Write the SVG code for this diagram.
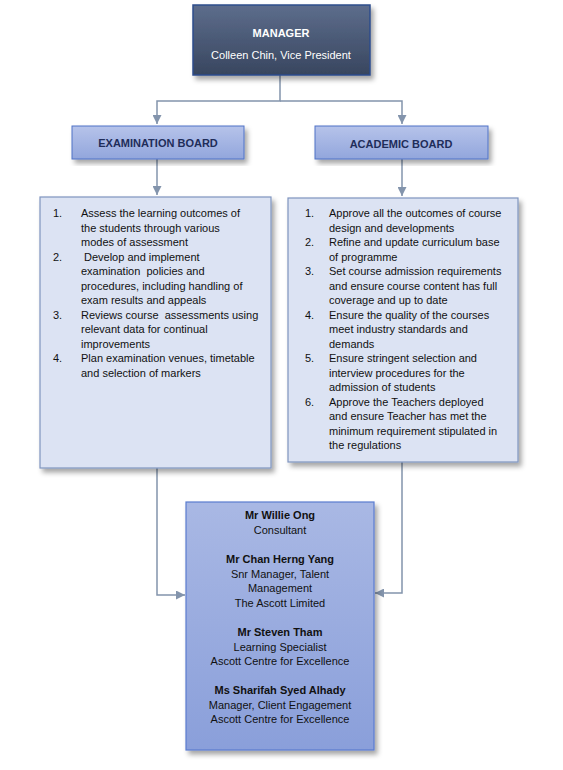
<svg xmlns="http://www.w3.org/2000/svg" width="563" height="770" viewBox="0 0 563 770">
<defs>
<linearGradient id="gMgr" x1="0" y1="0" x2="0" y2="1"><stop offset="0" stop-color="#5d6d8c"/><stop offset="1" stop-color="#38465f"/></linearGradient>
<linearGradient id="gBoard" x1="0" y1="0" x2="0" y2="1"><stop offset="0" stop-color="#b6c3ea"/><stop offset="1" stop-color="#92a6dc"/></linearGradient>
<linearGradient id="gBot" x1="0" y1="0" x2="0" y2="1"><stop offset="0" stop-color="#a9b8e4"/><stop offset="1" stop-color="#8a9fda"/></linearGradient>
<filter id="sh" x="-10%" y="-10%" width="130%" height="130%"><feDropShadow dx="3" dy="4" stdDeviation="2.5" flood-color="#000" flood-opacity="0.35"/></filter>
<marker id="ah" viewBox="0 0 10 10" refX="10" refY="5" markerWidth="6" markerHeight="6" orient="auto" markerUnits="strokeWidth"><path d="M0,0 L10,5 L0,10 z" fill="#8394ac"/></marker>
</defs>
<style>
text{font-family:"Liberation Sans",Arial,sans-serif;font-size:11px;fill:#111}
.b{font-weight:bold}
.w{fill:#fff}
.nv{fill:#1f2d5a;font-weight:bold}
.c{text-anchor:middle}
.p{white-space:pre}
.ln{fill:none;stroke:#8394ac;stroke-width:1.5}
</style>
<rect width="563" height="770" fill="#fff"/>
<g id="connectors">
<path class="ln" d="M280,75 V101 H157 V124" marker-end="url(#ah)"/>
<path class="ln" d="M280,101 H402 V124" marker-end="url(#ah)"/>
<path class="ln" d="M157,159 V195" marker-end="url(#ah)"/>
<path class="ln" d="M402,159 V196" marker-end="url(#ah)"/>
<path class="ln" d="M157,468 V595 H185" marker-end="url(#ah)"/>
<path class="ln" d="M402,462 V593 H375" marker-end="url(#ah)"/>
</g>
<g id="manager">
<rect x="193" y="5" width="177" height="70" fill="url(#gMgr)" stroke="#2d4c8c" stroke-width="1.5" filter="url(#sh)"/>
<text class="w b c" x="281" y="37">MANAGER</text>
<text class="w c" x="281" y="59">Colleen Chin, Vice President</text>
</g>
<g id="exam-board">
<rect x="72" y="126" width="172" height="33" fill="url(#gBoard)" stroke="#4f73c6" stroke-width="1" filter="url(#sh)"/>
<text class="nv c" x="158" y="147">EXAMINATION BOARD</text>
</g>
<g id="academic-board">
<rect x="315" y="126" width="173" height="33" fill="url(#gBoard)" stroke="#4f73c6" stroke-width="1" filter="url(#sh)"/>
<text class="nv c" x="401" y="148">ACADEMIC BOARD</text>
</g>
<g id="exam-duties">
<rect x="40" y="197" width="231" height="271" fill="#dce3f3" stroke="#7f94bf" stroke-width="1.2" filter="url(#sh)"/>
<text x="53" y="217">1.</text><text x="81" y="217">Assess the learning outcomes of</text>
<text x="81" y="231.5">the students through various</text>
<text x="81" y="246">modes of assessment</text>
<text x="53" y="260.5">2.</text><text x="84" y="260.5">Develop and implement</text>
<text class="p" x="81" y="275">examination  policies and</text>
<text x="81" y="289.5">procedures, including handling of</text>
<text x="81" y="304">exam results and appeals</text>
<text x="53" y="318.5">3.</text><text class="p" x="81" y="318.5">Reviews course  assessments using</text>
<text x="81" y="333">relevant data for continual</text>
<text x="81" y="347.5">improvements</text>
<text x="53" y="362">4.</text><text x="81" y="362">Plan examination venues, timetable</text>
<text x="81" y="376.5">and selection of markers</text>
</g>
<g id="academic-duties">
<rect x="288" y="198" width="230" height="264" fill="#dce3f3" stroke="#7f94bf" stroke-width="1.2" filter="url(#sh)"/>
<text x="305" y="217">1.</text><text x="329" y="217">Approve all the outcomes of course</text>
<text x="329" y="231.5">design and developments</text>
<text x="305" y="246">2.</text><text x="329" y="246">Refine and update curriculum base</text>
<text x="329" y="260.5">of programme</text>
<text x="305" y="275">3.</text><text x="329" y="275">Set course admission requirements</text>
<text x="329" y="289.5">and ensure course content has full</text>
<text x="329" y="304">coverage and up to date</text>
<text x="305" y="318.5">4.</text><text x="329" y="318.5">Ensure the quality of the courses</text>
<text x="329" y="333">meet industry standards and</text>
<text x="329" y="347.5">demands</text>
<text x="305" y="362">5.</text><text x="329" y="362">Ensure stringent selection and</text>
<text x="329" y="376.5">interview procedures for the</text>
<text x="329" y="391">admission of students</text>
<text x="305" y="405.5">6.</text><text x="329" y="405.5">Approve the Teachers deployed</text>
<text x="329" y="420">and ensure Teacher has met the</text>
<text x="329" y="434.5">minimum requirement stipulated in</text>
<text x="329" y="449">the regulations</text>
</g>
<g id="members">
<rect x="186" y="502" width="188" height="248" fill="url(#gBot)" stroke="#5a7ccf" stroke-width="1.2" filter="url(#sh)"/>
<text class="c b" x="280" y="519">Mr Willie Ong</text>
<text class="c" x="280" y="534">Consultant</text>
<text class="c b" x="280" y="563">Mr Chan Herng Yang</text>
<text class="c" x="280" y="577.5">Snr Manager, Talent</text>
<text class="c" x="280" y="592">Management</text>
<text class="c" x="280" y="606.5">The Ascott Limited</text>
<text class="c b" x="280" y="636">Mr Steven Tham</text>
<text class="c" x="280" y="650.5">Learning Specialist</text>
<text class="c" x="280" y="665">Ascott Centre for Excellence</text>
<text class="c b" x="280" y="694">Ms Sharifah Syed Alhady</text>
<text class="c" x="280" y="708.5">Manager, Client Engagement</text>
<text class="c" x="280" y="723">Ascott Centre for Excellence</text>
</g>
</svg>
